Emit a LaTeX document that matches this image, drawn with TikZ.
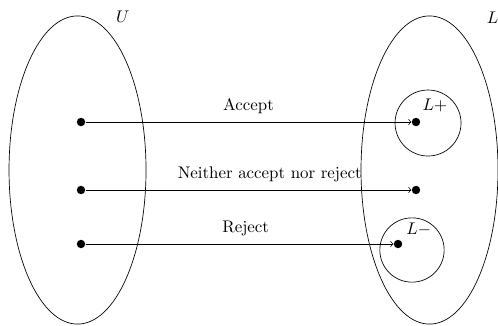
\documentclass[tikz,border=0pt]{standalone}
\begin{document}
\begin{tikzpicture}
        [
            dot/.style={circle, fill=black, inner sep=0pt, minimum size=5pt},
            set/.style={thin}
        ]
        \useasboundingbox (0,0) rectangle (10.375,6.771);
        % U
        \draw[set] (1.615,3.229) ellipse (1.427 and 3.21);
        \node (U) at (2.56,6.42) {$U$};
        \node[dot] (u1) at (1.6875,4.229) {};
        \node[dot] (u2) at (1.6875,2.8125) {};
        \node[dot] (u3) at (1.6875,1.6875) {};
        % L
        \draw[set] (8.948,3.229) ellipse (1.427 and 3.21);
        \node (L) at (10.26,6.41) {$L$};
        % L+
        \draw[set] (8.917,4.208) circle (0.6875);
        \node (Lplus) at (9.06,4.58) {$L+$};
        \node[dot] (l1) at (8.667,4.229) {};
        % neither
        \node[dot] (l2) at (8.667,2.8125) {};
        % L-
        \draw[set] (8.583,1.5625) circle (0.67);
        \node (Lminus) at (8.72,2.0) {$L-$};
        \node[dot] (l3) at (8.292,1.6875) {};
        % maps
        \draw[->] (u1) -- node[above=1.5pt] {Accept} (l1);
        \draw[->] (u2) -- node[above=1.5pt, pos=0.565] {Neither accept nor reject} (l2);
        \draw[->] (u3) -- node[above=1.5pt, pos=0.52] {Reject} (l3);
    \end{tikzpicture}
\end{document}
